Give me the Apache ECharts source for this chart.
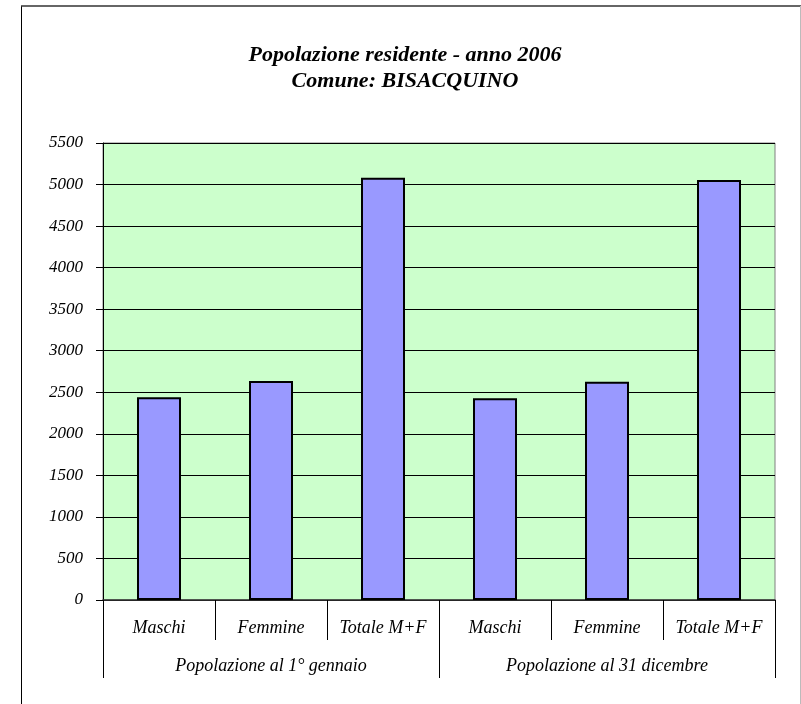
<!DOCTYPE html>
<html>
<head>
<meta charset="utf-8">
<script src="https://cdn.jsdelivr.net/npm/echarts@6/dist/echarts.min.js"></script>
<style>html,body{margin:0;padding:0;background:#fff;}#c{width:801px;height:704px;}</style>
</head>
<body>
<div id="c"></div>
<script>
var categories = ['Maschi', 'Femmine', 'Totale M+F', 'Maschi ', 'Femmine ', 'Totale M+F '];
var groups = ['Popolazione al 1° gennaio', 'Popolazione al 31 dicembre'];
var values = [2440, 2636, 5081, 2427, 2626, 5055];
var yTicks = { min: 0, max: 5500, interval: 500 };
var titleLines = ['Popolazione residente - anno 2006', 'Comune: BISACQUINO'];

var font = 'Liberation Serif, Times New Roman, serif';
var chart = echarts.init(document.getElementById('c'), null, { renderer: 'canvas' });
chart.setOption({
  animation: false,
  backgroundColor: '#ffffff',
  title: {
    text: titleLines.join('\n'),
    left: 400, top: 37, textAlign: 'center',
    textStyle: { fontFamily: font, fontStyle: 'italic', fontWeight: 'bold', fontSize: 22, lineHeight: 26, color: '#000' }
  },
  graphic: [
    { type: 'line', shape: { x1: 21.5, y1: 6, x2: 21.5, y2: 704 }, style: { stroke: '#000', lineWidth: 1 } },
    { type: 'line', shape: { x1: 21, y1: 6, x2: 801, y2: 6 }, style: { stroke: '#333', lineWidth: 1.5 } },
    { type: 'line', shape: { x1: 800.5, y1: 6, x2: 800.5, y2: 704 }, style: { stroke: '#bbb', lineWidth: 1 } }
  ],
  grid: { left: 103, top: 143, right: 26, bottom: 104, show: true, backgroundColor: '#CCFFCC', borderColor: '#808080', borderWidth: 1 },
  xAxis: [
    {
      type: 'category', data: categories, position: 'bottom',
      axisLine: { lineStyle: { color: '#333', width: 1.5 } },
      axisTick: { show: true, interval: 0, length: 40, lineStyle: { color: '#000' } },
      axisLabel: { interval: 0, margin: 19, color: '#000', fontFamily: font, fontStyle: 'italic', fontSize: 18,
        formatter: function (v) { return v.trim(); } }
    },
    {
      type: 'category', data: groups, position: 'bottom', gridIndex: 0,
      axisLine: { show: false },
      axisTick: { show: true, interval: 0, length: 78, lineStyle: { color: '#000' } },
      axisLabel: { interval: 0, margin: 57, color: '#000', fontFamily: font, fontStyle: 'italic', fontSize: 18 }
    }
  ],
  yAxis: {
    type: 'value', min: yTicks.min, max: yTicks.max, interval: yTicks.interval,
    axisLine: { show: true, lineStyle: { color: '#000', width: 1 } },
    axisTick: { show: true, length: 7, lineStyle: { color: '#000' } },
    axisLabel: { margin: 20, color: '#000', fontFamily: font, fontStyle: 'italic', fontSize: 17,
      formatter: function (v) { return String(v); } },
    splitLine: { show: true, lineStyle: { color: '#000', width: 1 } }
  },
  series: [{
    type: 'bar', xAxisIndex: 0, data: values, barWidth: 44,
    itemStyle: { color: '#9999FF', borderColor: '#000', borderWidth: 2 }
  }]
});
</script>
</body>
</html>
